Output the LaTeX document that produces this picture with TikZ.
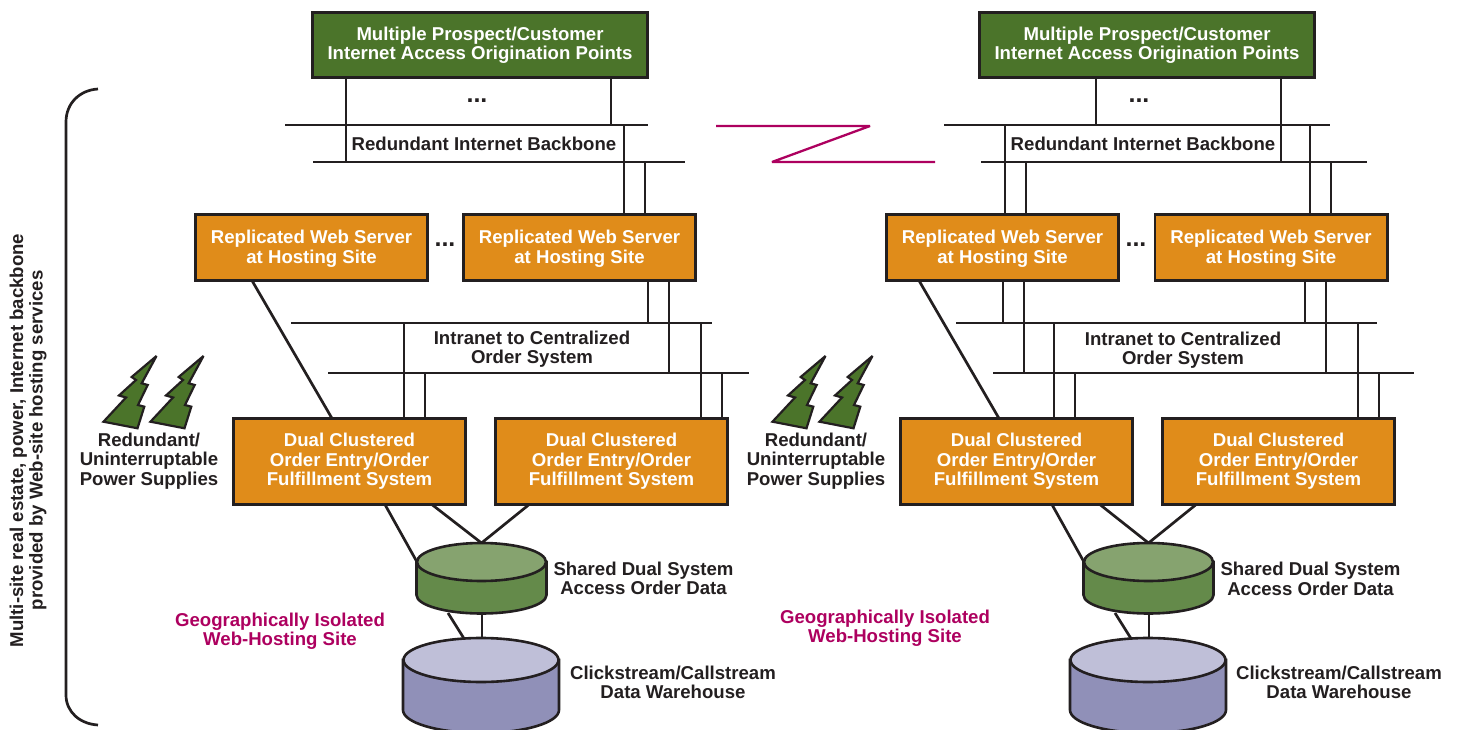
\documentclass[tikz,border=0pt]{standalone}
\usepackage{fontspec}
\setmainfont{Liberation Sans}[BoldFont={Liberation Sans Bold}]
\usetikzlibrary{shapes.geometric}
\definecolor{ink}{HTML}{231F20}
\definecolor{boxgreen}{HTML}{4B742A}
\definecolor{boxorange}{HTML}{E08C1A}
\definecolor{cylgreentop}{HTML}{86A36F}
\definecolor{cylgreen}{HTML}{648A4A}
\definecolor{cylpurpletop}{HTML}{BFBFD8}
\definecolor{cylpurple}{HTML}{9090B8}
\definecolor{magentaline}{HTML}{AD005F}
\tikzset{
  x=1pt,y=-1pt,
  wire/.style={draw=ink,line width=2.7pt},
  txt/.style={font=\fontsize{18.6}{19.5}\selectfont\bfseries,align=center,text=ink,inner sep=0pt},
  magtxt/.style={txt,text=magentaline},
  dots/.style={font=\fontsize{25}{25}\selectfont\bfseries,text=ink,inner sep=0pt},
  anybox/.style={draw=ink,line width=2.8pt,outer sep=0pt,inner sep=0pt,align=center,
     font=\fontsize{18.6}{19.5}\selectfont\bfseries,text=white},
  greenbox/.style={anybox,fill=boxgreen,minimum width=335.2pt,minimum height=65.2pt},
  webbox/.style={anybox,fill=boxorange,minimum width=232.2pt,minimum height=66.2pt,text height=35.4pt},
  dualbox/.style={anybox,fill=boxorange,minimum width=232.2pt,minimum height=86.2pt},
  greentop/.style={ellipse,draw=ink,line width=2.6pt,fill=cylgreentop,outer sep=0pt,inner sep=0pt,minimum width=129pt,minimum height=38pt},
  purpletop/.style={ellipse,draw=ink,line width=2.6pt,fill=cylpurpletop,outer sep=0pt,inner sep=0pt,minimum width=155pt,minimum height=44pt},
  boltst/.style={draw=ink,line width=2.2pt,fill=boxgreen,line join=miter,miter limit=3},
}
% vertical connector at abscissa #1 between two named places
\newcommand{\tapwire}[3]{\coordinate (tp) at (#1,0); \draw[wire] (tp |- #2) -- (tp |- #3);}
% sloped connector leaving a box's lower edge at abscissa #1
\newcommand{\slantwire}[3]{\coordinate (tp) at (#1,0); \draw[wire] (tp |- #2) -- (#3);}
% sloped connector between two boxes at abscissae #1 and #3
\newcommand{\slopewire}[4]{\coordinate (tp) at (#1,0); \coordinate (tq) at (#3,0); \draw[wire] (tp |- #2) -- (tq |- #4);}
\newcommand{\bolt}[1]{\draw[boltst,shift={(#1,0)}] (156.5,356) -- (131.7,377) -- (136,380) -- (119,395.5) -- (126,397.5) -- (103.5,421.7) -- (137.5,428.3) -- (144.3,406.7) -- (138,405) -- (147.7,385) -- (141.7,383.3) -- cycle;}
\newcommand{\greencyl}[1]{\fill[cylgreen,draw=ink,line width=2.6pt] (#1-65,562) -- (#1-65,595) arc[start angle=180,end angle=360,x radius=65,y radius=-18.5] -- (#1+65,562) -- cycle;}
\newcommand{\purplecyl}[1]{\fill[cylpurple,draw=ink,line width=2.6pt] (#1-78,660) -- (#1-78,710) arc[start angle=180,end angle=360,x radius=78,y radius=-23] -- (#1+78,660) -- cycle;}
\begin{document}
\begin{tikzpicture}
\useasboundingbox (0,0) rectangle (1460,730);
\clip (0,0) rectangle (1460,730);

% brace and side label
\coordinate (brA) at (98,89);
\coordinate (brB) at (98,725);
\draw[wire] (brA) .. controls (80,90) and (66,103) .. (66,122) -- (66,695) .. controls (66,712) and (80,724) .. (brB);
\node[txt,rotate=90] (sidelabel) at (28,440.5) {Multi-site real estate, power, Internet backbone\\provided by Web-site hosting services};

% buses
\coordinate (aAs) at (285,125); \coordinate (aAe) at (648,125);
\coordinate (aBs) at (313,162); \coordinate (aBe) at (685,162);
\coordinate (aCs) at (291,323); \coordinate (aCe) at (712,323);
\coordinate (aDs) at (328,373); \coordinate (aDe) at (749,373);
\coordinate (bAs) at (944,125); \coordinate (bAe) at (1330,125);
\coordinate (bBs) at (981,162); \coordinate (bBe) at (1367,162);
\coordinate (bCs) at (956,323); \coordinate (bCe) at (1377,323);
\coordinate (bDs) at (993,373); \coordinate (bDe) at (1414,373);
\foreach \s/\e in {aAs/aAe,aBs/aBe,aCs/aCe,aDs/aDe,bAs/bAe,bBs/bBe,bCs/bCe,bDs/bDe}
  \draw[wire] (\s) -- (\e);

% link between sites
\coordinate (zA) at (716,126); \coordinate (zB) at (870,126);
\coordinate (zC) at (772,162); \coordinate (zD) at (935,162);
\draw[draw=magentaline,line width=2.3pt,miter limit=2] (zA) -- (zB) -- (zC) -- (zD);

% boxes
\node[greenbox] (ga) at (480,45) {Multiple Prospect/Customer\\Internet Access Origination Points};
\node[greenbox] (gb) at (1147,45) {Multiple Prospect/Customer\\Internet Access Origination Points};
\node[webbox] (wa1) at (311.5,247.5) {Replicated Web Server\\at Hosting Site};
\node[webbox] (wa2) at (579.5,247.5) {Replicated Web Server\\at Hosting Site};
\node[webbox] (wb1) at (1002.5,247.5) {Replicated Web Server\\at Hosting Site};
\node[webbox] (wb2) at (1271,247.5) {Replicated Web Server\\at Hosting Site};
\node[dualbox] (da1) at (349.5,461.5) {Dual Clustered\\Order Entry/Order\\Fulfillment System};
\node[dualbox] (da2) at (611.5,461.5) {Dual Clustered\\Order Entry/Order\\Fulfillment System};
\node[dualbox] (db1) at (1016.5,461.5) {Dual Clustered\\Order Entry/Order\\Fulfillment System};
\node[dualbox] (db2) at (1278.5,461.5) {Dual Clustered\\Order Entry/Order\\Fulfillment System};

% site A verticals
\tapwire{346}{ga.south}{aBs}
\tapwire{611}{ga.south}{aAs}
\tapwire{624}{aAs}{wa2.north}
\tapwire{645}{aBs}{wa2.north}
\tapwire{648}{wa2.south}{aCs}
\tapwire{669}{wa2.south}{aDs}
\tapwire{404}{aCs}{da1.north}
\tapwire{425}{aDs}{da1.north}
\tapwire{701}{aCs}{da2.north}
\tapwire{722}{aDs}{da2.north}
% site B verticals
\tapwire{1096}{gb.south}{bAs}
\tapwire{1281}{gb.south}{bBs}
\tapwire{1005}{bAs}{wb1.north}
\tapwire{1026}{bBs}{wb1.north}
\tapwire{1310}{bAs}{wb2.north}
\tapwire{1331}{bBs}{wb2.north}
\tapwire{1003}{wb1.south}{bCs}
\tapwire{1024}{wb1.south}{bDs}
\tapwire{1305}{wb2.south}{bCs}
\tapwire{1326}{wb2.south}{bDs}
\tapwire{1054}{bCs}{db1.north}
\tapwire{1075}{bDs}{db1.north}
\tapwire{1358}{bCs}{db2.north}
\tapwire{1379}{bDs}{db2.north}

% web server to order system
\slopewire{252}{wa1.south}{332}{da1.north}
\slopewire{919}{wb1.south}{999}{db1.north}

% cylinders
\greencyl{481.5}
\node[greentop] (cga) at (481.5,562) {};
\greencyl{1148.5}
\node[greentop] (cgb) at (1148.5,562) {};
\purplecyl{481}
\node[purpletop] (cpa) at (481,660) {};
\purplecyl{1148}
\node[purpletop] (cpb) at (1148,660) {};

\slantwire{385}{da1.south}{cga.west}
\slantwire{432}{da1.south}{cga.north}
\slantwire{529}{da2.south}{cga.north}
\slantwire{1052}{db1.south}{cgb.west}
\slantwire{1100}{db1.south}{cgb.north}
\slantwire{1196}{db2.south}{cgb.north}
\coordinate (uaA) at (448,613); \coordinate (uaB) at (464,638.5);
\coordinate (ubA) at (1115,613); \coordinate (ubB) at (1131,638.5);
\draw[wire] (uaA) -- (uaB);
\draw[wire] (ubA) -- (ubB);
\tapwire{482}{uaA}{cpa.north}
\tapwire{1149}{ubA}{cpb.north}

% bolts
\bolt{0}\bolt{47}\bolt{669}\bolt{716}

% texts
\node[txt] (rba) at (484,143.5) {Redundant Internet Backbone};
\node[txt] (rbb) at (1143,143.5) {Redundant Internet Backbone};
\node[txt] (ia) at (532,349) {Intranet to Centralized\\Order System};
\node[txt] (ib) at (1183,350) {Intranet to Centralized\\Order System};
\node[txt] (upa) at (149,461) {Redundant/\\Uninterruptable\\Power Supplies};
\node[txt] (upb) at (816,461) {Redundant/\\Uninterruptable\\Power Supplies};
\node[magtxt] (gia) at (280,631) {Geographically Isolated\\Web-Hosting Site};
\node[magtxt] (gib) at (885,628) {Geographically Isolated\\Web-Hosting Site};
\node[txt] (sa) at (643.5,578.5) {Shared Dual System\\Access Order Data};
\node[txt] (sb) at (1310.5,579) {Shared Dual System\\Access Order Data};
\node[txt] (ca) at (673,682.5) {Clickstream/Callstream\\Data Warehouse};
\node[txt] (cb) at (1339,682.5) {Clickstream/Callstream\\Data Warehouse};
\node[dots] (da) at (477,101) {...};
\node[dots] (db) at (1139,101) {...};
\node[dots] (dc) at (445,245) {...};
\node[dots] (dd) at (1136,245) {...};
\end{tikzpicture}
\end{document}
